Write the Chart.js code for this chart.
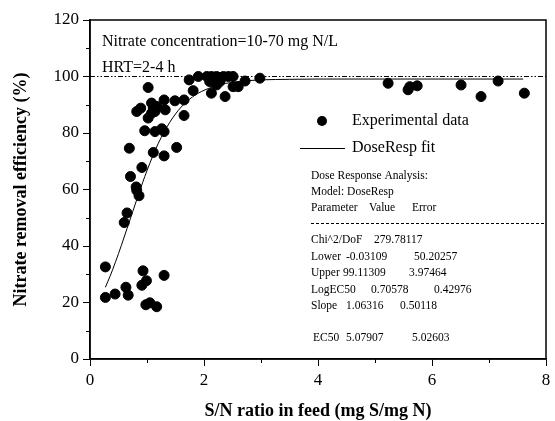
<!DOCTYPE html>
<html>
<head>
<meta charset="utf-8">
<script src="https://cdn.jsdelivr.net/npm/chart.js@4.4.1/dist/chart.umd.min.js"></script>
<style>
  html, body { margin: 0; padding: 0; background: #fff; }
  #wrap { width: 555px; height: 421px; }
</style>
</head>
<body>
<div id="wrap"><canvas id="chart" width="555" height="421"></canvas></div>
<script>
// experimental data (S/N ratio, removal %)
const expX = [0.27, 0.27, 0.44, 0.63, 0.67, 0.93, 0.91, 0.99, 0.98, 1.05, 1.17, 1.30,
  0.60, 0.65, 0.81, 0.82, 0.86, 0.71, 0.91, 0.69, 1.11, 1.30, 1.52,
  0.96, 1.14, 1.26, 1.30,
  0.82, 0.89, 1.02, 1.08, 1.14, 1.11, 1.08, 1.17, 1.32, 1.30, 1.49, 1.65, 1.65, 1.02,
  1.74, 1.81, 1.90, 2.05, 2.13, 2.22, 2.34, 2.43, 2.51, 2.10, 2.28, 2.22, 2.13, 2.37, 2.51, 2.60, 2.72, 2.98,
  5.23, 5.58, 5.61, 5.74, 6.51, 6.86, 7.16, 7.62];
const expY = [32.6, 21.8, 23.0, 25.4, 22.6, 31.2, 26.1, 27.7, 19.2, 19.9, 18.5, 29.6,
  48.3, 51.7, 60.9, 59.7, 57.8, 64.6, 67.8, 74.6, 73.1, 71.9, 74.9,
  80.8, 80.5, 81.5, 80.5,
  87.6, 88.8, 85.3, 87.0, 87.6, 88.8, 90.6, 89.4, 88.2, 91.7, 91.4, 91.7, 86.2, 96.1,
  98.8, 95.0, 100, 100, 100, 100, 100, 100, 100, 98.2, 98.2, 97.0, 94.1, 92.9, 96.4, 96.4, 98.4, 99.4,
  97.6, 95.3, 96.4, 96.7, 97.0, 92.9, 98.4, 94.1];

// DoseResp fit curve
const fitX = [0.27, 0.35, 0.45, 0.55, 0.65, 0.75, 0.85, 1.0, 1.2, 1.4, 1.6, 1.8, 2.0, 2.3, 2.6, 3.0, 3.5, 4.0, 5.0, 6.0, 7.0, 7.6];
const fitY = [25.4, 29.2, 34.5, 40.2, 46.2, 52.2, 58.2, 66.7, 76.4, 83.8, 89.2, 92.8, 95.1, 97.2, 98.2, 98.8, 99.0, 99.1, 99.1, 99.1, 99.1, 99.1];

// reference line at 100 %
const refX = [0, 8];
const refY = [100, 100];

const xTicks = [0, 2, 4, 6, 8];
const yTicks = [0, 20, 40, 60, 80, 100, 120];

const statsRows = [
  ['Chi^2/DoF', '279.78117', ''],
  ['Lower', '-0.03109', '50.20257'],
  ['Upper', '99.11309', '3.97464'],
  ['LogEC50', '0.70578', '0.42976'],
  ['Slope', '1.06316', '0.50118']
];

const pts = (xs, ys) => xs.map((v, i) => ({ x: v, y: ys[i] }));
const serif = '"Liberation Serif", "Times New Roman", serif';

const annot = {
  id: 'annot',
  afterDraw(chart) {
    const { ctx, chartArea: a, scales: { x, y } } = chart;
    ctx.save();
    ctx.strokeStyle = '#000';
    ctx.lineWidth = 1.5;
    ctx.strokeRect(a.left, a.top, a.right - a.left, a.bottom - a.top);

    // minor ticks
    ctx.lineWidth = 1;
    ctx.beginPath();
    for (let v = 1; v < 8; v += 2) {
      const px = Math.round(x.getPixelForValue(v)) + 0.5;
      ctx.moveTo(px, a.bottom); ctx.lineTo(px, a.bottom + 4);
    }
    for (let v = 10; v < 120; v += 20) {
      const py = Math.round(y.getPixelForValue(v)) + 0.5;
      ctx.moveTo(a.left, py); ctx.lineTo(a.left - 4, py);
    }
    ctx.stroke();

    ctx.fillStyle = '#000';
    ctx.textBaseline = 'middle';
    ctx.textAlign = 'left';
    ctx.font = '16px ' + serif;
    ctx.fillText('Nitrate concentration=10-70 mg N/L', 102, 42);
    ctx.fillText('HRT=2-4 h', 102, 68);

    // legend
    ctx.beginPath();
    ctx.arc(322, 121, 5, 0, Math.PI * 2);
    ctx.fill();
    ctx.beginPath();
    ctx.moveTo(300, 148.5); ctx.lineTo(345, 148.5);
    ctx.stroke();
    ctx.fillText('Experimental data', 352, 121);
    ctx.fillText('DoseResp fit', 352, 148);

    // stats box
    ctx.font = '11.5px ' + serif;
    ctx.fillText('Dose Response Analysis:', 311, 176);
    ctx.fillText('Model: DoseResp', 311, 192);
    ctx.fillText('Parameter', 311, 208);
    ctx.fillText('Value', 369, 208);
    ctx.fillText('Error', 412, 208);
    ctx.setLineDash([3, 2]);
    ctx.beginPath();
    ctx.moveTo(311, 223.5); ctx.lineTo(a.right, 223.5);
    ctx.stroke();
    ctx.setLineDash([]);
    const cols = [[311, 374], [311, 346, 414], [311, 343, 409], [311, 371, 434], [311, 346, 400]];
    statsRows.forEach((r, i) => {
      const yy = 240 + i * 16.6;
      r.forEach((s, j) => { if (s) ctx.fillText(s, cols[i][j], yy); });
    });
    ctx.fillText('EC50', 313, 338);
    ctx.fillText('5.07907', 346, 338);
    ctx.fillText('5.02603', 412, 338);
    ctx.restore();
  }
};

new Chart(document.getElementById('chart'), {
  type: 'scatter',
  data: {
    datasets: [
      {
        label: 'Experimental data',
        data: pts(expX, expY),
        backgroundColor: '#000',
        borderColor: '#000',
        pointRadius: 5,
        pointHoverRadius: 5,
        order: 1
      },
      {
        label: 'DoseResp fit',
        type: 'line',
        data: pts(fitX, fitY),
        borderColor: '#000',
        borderWidth: 1,
        pointRadius: 0,
        cubicInterpolationMode: 'monotone',
        fill: false,
        order: 2
      },
      {
        label: '100%',
        type: 'line',
        data: pts(refX, refY),
        borderColor: '#000',
        borderWidth: 1,
        borderDash: [5, 2, 1.5, 2, 1.5, 2],
        pointRadius: 0,
        fill: false,
        order: 3
      }
    ]
  },
  options: {
    responsive: false,
    animation: false,
    layout: { padding: { left: 0, right: 9, top: 20, bottom: 0 } },
    plugins: {
      legend: { display: false },
      tooltip: { enabled: false }
    },
    scales: {
      x: {
        type: 'linear',
        min: 0,
        max: 8,
        afterBuildTicks: (s) => { s.ticks = xTicks.map(v => ({ value: v })); },
        afterFit: (s) => { s.height = 62; },
        ticks: { color: '#000', font: { family: serif, size: 17 }, padding: 4, maxRotation: 0 },
        grid: { drawOnChartArea: false, color: '#000', tickLength: 7, tickWidth: 1 },
        border: { color: '#000', width: 1.5 },
        title: {
          display: true,
          text: 'S/N ratio in feed (mg S/mg N)',
          color: '#000',
          font: { family: serif, size: 18, weight: 'bold', lineHeight: 1.1 },
          padding: 0
        }
      },
      y: {
        min: 0,
        max: 120,
        afterBuildTicks: (s) => { s.ticks = yTicks.map(v => ({ value: v })); },
        afterFit: (s) => { s.width = 90; },
        ticks: { color: '#000', font: { family: serif, size: 17 }, padding: 4 },
        grid: { drawOnChartArea: false, color: '#000', tickLength: 7, tickWidth: 1 },
        border: { color: '#000', width: 1.5 },
        title: {
          display: true,
          text: 'Nitrate removal efficiency (%)',
          color: '#000',
          font: { family: serif, size: 18, weight: 'bold' },
          padding: { top: 11, bottom: 0 }
        }
      }
    }
  },
  plugins: [annot]
});
</script>
</body>
</html>
